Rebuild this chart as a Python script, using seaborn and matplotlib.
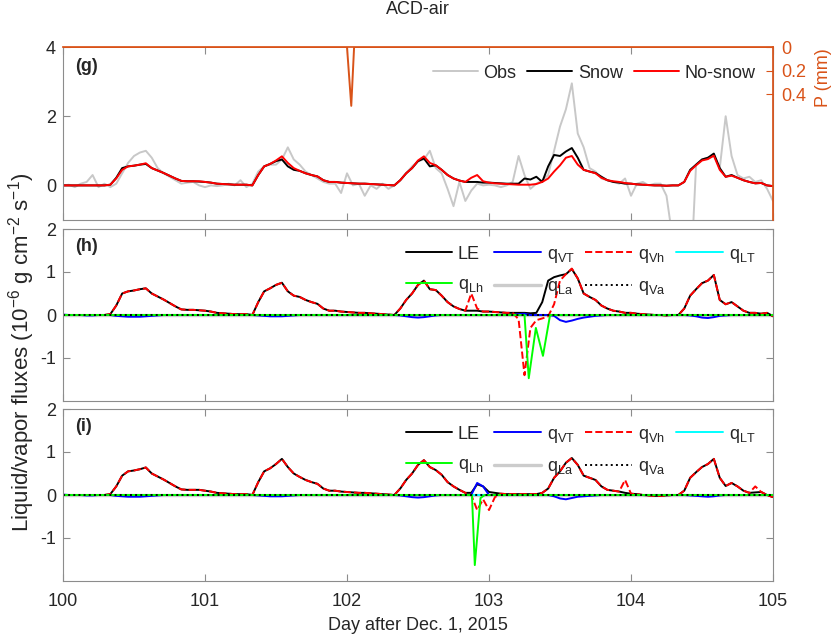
import numpy as np
import pandas as pd
import seaborn as sns
import matplotlib
matplotlib.use('Agg')
from matplotlib import pyplot as plt

# hourly samples, day 100 to day 105
hours = np.arange(121)
day = 100 + hours / 24

# (g) latent heat flux, observed and modelled
obs = [0.0, 0.02, -0.05, 0.05, 0.1, 0.3, -0.05, 0.05, -0.05, 0.05, 0.35, 0.65, 0.85, 0.95, 1.0, 0.8, 0.5, 0.35, 0.25, 0.15, 0.05, 0.08, 0.1, 0.0,
       -0.05, 0.0, -0.02, 0.0, 0.05, 0.0, 0.15, -0.05, 0.05, 0.4, 0.55, 0.6, 0.6, 0.75, 1.1, 0.75, 0.6, 0.4, 0.3, 0.2, 0.1, 0.05, 0.05, -0.22,
       0.35, 0.0, 0.05, -0.3, 0.0, -0.1, 0.05, -0.1, 0.0, 0.15, 0.35, 0.55, 0.7, 0.75, 1.0, 0.5, 0.35, -0.1, -0.6, 0.1, -0.45, -0.15, 0.05, 0.0,
       0.02, 0.0, -0.05, 0.0, 0.1, 0.85, 0.3, -0.1, 0.05, 0.15, 0.3, 1.0, 1.7, 2.2, 2.95, 1.5, 1.1, 0.5, 0.4, 0.2, 0.15, 0.1, 0.05, 0.2,
       -0.3, 0.05, 0.1, 0.0, 0.05, 0.05, -0.3, -1.5, -3.0, -3.0, -3.0, 0.6, 0.75, 0.8, 0.85, 0.5, 2.0, 0.85, 0.3, 0.2, 0.25, 0.1, 0.15, -0.1, -0.45]
snow = [0.0, 0.0, 0.0, 0.0, 0.0, 0.0, 0.0, 0.0, 0.02, 0.22, 0.5, 0.55, 0.57, 0.6, 0.62, 0.5, 0.43, 0.36, 0.28, 0.2, 0.13, 0.12, 0.12, 0.11,
        0.1, 0.08, 0.05, 0.04, 0.03, 0.02, 0.02, 0.02, 0.0, 0.3, 0.55, 0.62, 0.7, 0.75, 0.55, 0.45, 0.42, 0.35, 0.3, 0.26, 0.15, 0.1, 0.1, 0.08,
        0.07, 0.06, 0.05, 0.05, 0.04, 0.03, 0.02, 0.01, 0.0, 0.15, 0.35, 0.5, 0.7, 0.78, 0.55, 0.58, 0.45, 0.3, 0.2, 0.14, 0.1, 0.1, 0.1, 0.08,
        0.08, 0.07, 0.06, 0.05, 0.05, 0.05, 0.2, 0.17, 0.25, 0.1, 0.55, 0.88, 0.85, 0.98, 1.08, 0.8, 0.45, 0.4, 0.36, 0.25, 0.15, 0.1, 0.08, 0.05,
        0.05, 0.03, 0.02, 0.01, 0.0, 0.0, -0.01, 0.0, 0.0, 0.1, 0.45, 0.6, 0.75, 0.8, 0.92, 0.5, 0.25, 0.3, 0.22, 0.15, 0.1, 0.06, 0.07, 0.0, -0.02]
nosnow = [0.0, 0.0, 0.0, 0.0, 0.0, 0.0, 0.0, 0.0, 0.02, 0.2, 0.45, 0.55, 0.57, 0.6, 0.64, 0.5, 0.43, 0.36, 0.28, 0.2, 0.13, 0.12, 0.12, 0.12,
          0.1, 0.08, 0.05, 0.04, 0.03, 0.02, 0.02, 0.02, 0.0, 0.3, 0.55, 0.62, 0.72, 0.84, 0.65, 0.5, 0.42, 0.35, 0.3, 0.26, 0.15, 0.1, 0.1, 0.08,
          0.07, 0.06, 0.05, 0.05, 0.04, 0.03, 0.02, 0.01, 0.0, 0.15, 0.35, 0.5, 0.72, 0.84, 0.65, 0.58, 0.45, 0.3, 0.2, 0.14, 0.1, 0.22, 0.3, 0.12,
          0.08, 0.06, 0.05, 0.04, 0.03, 0.02, 0.02, 0.02, 0.04, 0.1, 0.2, 0.4, 0.58, 0.8, 0.85, 0.6, 0.45, 0.4, 0.35, 0.22, 0.15, 0.12, 0.1, 0.07,
          0.05, 0.03, 0.02, 0.01, 0.0, 0.0, -0.01, 0.0, 0.0, 0.1, 0.42, 0.58, 0.72, 0.76, 0.86, 0.45, 0.25, 0.28, 0.22, 0.15, 0.1, 0.06, 0.07, 0.0, -0.02]

# precipitation (right axis of g)
p_day = [100.0, 102.0, 102.03, 102.05, 105.0]
p_mm = [0.0, 0.0, 0.5, 0.0, 0.0]

# (h) snow run
le_h = [0.0, 0.0, 0.0, 0.0, 0.0, 0.0, 0.0, 0.0, 0.02, 0.22, 0.5, 0.55, 0.57, 0.6, 0.62, 0.5, 0.43, 0.36, 0.28, 0.2, 0.13, 0.12, 0.12, 0.11,
        0.1, 0.08, 0.05, 0.04, 0.03, 0.02, 0.02, 0.02, 0.0, 0.3, 0.55, 0.62, 0.7, 0.75, 0.55, 0.45, 0.42, 0.35, 0.3, 0.26, 0.15, 0.1, 0.1, 0.08,
        0.07, 0.06, 0.05, 0.05, 0.04, 0.03, 0.02, 0.01, 0.0, 0.15, 0.35, 0.5, 0.7, 0.8, 0.6, 0.58, 0.45, 0.3, 0.2, 0.14, 0.1, 0.1, 0.1, 0.08,
        0.08, 0.07, 0.06, 0.05, 0.05, 0.05, 0.05, 0.04, 0.05, 0.3, 0.8, 0.88, 0.92, 0.95, 1.07, 0.85, 0.5, 0.42, 0.35, 0.22, 0.15, 0.1, 0.08, 0.05,
        0.05, 0.03, 0.02, 0.01, 0.0, 0.0, -0.01, 0.0, 0.0, 0.15, 0.45, 0.6, 0.74, 0.8, 0.93, 0.35, 0.25, 0.3, 0.2, 0.1, 0.05, 0.05, 0.03, 0.05, -0.03]
qvt_h = [0.01, 0.0, 0.0, 0.0, -0.01, -0.01, 0.0, 0.0, 0.0, -0.02, -0.03, -0.04, -0.04, -0.04, -0.03, -0.02, -0.01, 0.0, 0.0, 0.0, 0.0, 0.0, 0.0, 0.0,
         0.0, 0.0, 0.0, 0.0, 0.0, 0.0, 0.0, 0.0, 0.0, -0.01, -0.02, -0.03, -0.03, -0.03, -0.02, -0.01, 0.0, 0.0, 0.0, 0.0, 0.0, 0.0, 0.0, 0.0,
         0.0, 0.0, 0.0, 0.0, 0.0, 0.0, 0.0, 0.0, 0.0, -0.01, -0.03, -0.05, -0.06, -0.05, -0.03, -0.01, 0.0, 0.0, 0.0, 0.0, 0.0, 0.0, 0.0, 0.0,
         0.0, 0.0, 0.0, 0.0, 0.0, 0.02, 0.03, 0.0, 0.0, 0.0, 0.0, -0.02, -0.12, -0.16, -0.13, -0.09, -0.06, -0.04, -0.02, -0.01, 0.0, 0.0, 0.0, 0.0,
         0.0, 0.0, 0.0, 0.0, 0.0, 0.0, 0.0, 0.0, 0.0, 0.0, -0.01, -0.03, -0.06, -0.07, -0.05, -0.02, -0.01, 0.0, 0.0, 0.0, 0.0, 0.0, 0.0, 0.0, 0.0]
qvh_h = [0.0, 0.0, 0.0, 0.0, 0.0, 0.0, 0.0, 0.0, 0.02, 0.22, 0.5, 0.55, 0.57, 0.6, 0.62, 0.5, 0.43, 0.36, 0.28, 0.2, 0.13, 0.12, 0.12, 0.11,
         0.1, 0.08, 0.05, 0.04, 0.03, 0.02, 0.02, 0.02, 0.0, 0.3, 0.55, 0.62, 0.7, 0.75, 0.55, 0.45, 0.42, 0.35, 0.3, 0.26, 0.15, 0.1, 0.1, 0.08,
         0.07, 0.06, 0.05, 0.05, 0.04, 0.03, 0.02, 0.01, 0.0, 0.15, 0.35, 0.5, 0.7, 0.8, 0.6, 0.58, 0.45, 0.3, 0.2, 0.14, 0.1, 0.5, 0.15, 0.08,
         0.08, 0.07, 0.06, 0.05, 0.05, -0.1, -1.4, -0.3, -0.12, -0.08, -0.03, 0.25, 0.8, 0.95, 1.08, 0.85, 0.5, 0.42, 0.35, 0.22, 0.15, 0.1, 0.08, 0.05,
         0.05, 0.03, 0.02, 0.01, 0.0, 0.0, -0.01, 0.0, 0.0, 0.15, 0.45, 0.6, 0.74, 0.8, 0.93, 0.35, 0.25, 0.3, 0.2, 0.1, 0.05, 0.05, 0.03, 0.05, -0.03]
qlh_h_day = [100.0, 103.25, 103.28, 103.33, 103.38, 103.43, 105.0]
qlh_h = [0.0, 0.0, -1.47, -0.3, -0.95, 0.0, 0.0]

# (i) no-snow run
le_i = [0.0, 0.0, 0.0, 0.0, 0.0, 0.0, 0.0, 0.0, 0.02, 0.2, 0.45, 0.55, 0.57, 0.6, 0.64, 0.5, 0.43, 0.36, 0.28, 0.2, 0.13, 0.12, 0.12, 0.12,
        0.1, 0.08, 0.05, 0.04, 0.03, 0.02, 0.02, 0.02, 0.0, 0.3, 0.55, 0.62, 0.72, 0.84, 0.65, 0.5, 0.42, 0.35, 0.3, 0.26, 0.15, 0.1, 0.1, 0.08,
        0.07, 0.06, 0.05, 0.05, 0.04, 0.03, 0.02, 0.01, 0.0, 0.15, 0.35, 0.5, 0.7, 0.81, 0.65, 0.58, 0.47, 0.3, 0.2, 0.12, 0.05, 0.05, 0.25, 0.2,
        0.07, 0.05, 0.03, 0.02, 0.02, 0.02, 0.02, 0.02, 0.02, 0.05, 0.15, 0.4, 0.55, 0.75, 0.86, 0.7, 0.45, 0.4, 0.35, 0.2, 0.12, 0.1, 0.08, 0.05,
        0.03, 0.02, 0.0, -0.01, -0.02, -0.02, -0.01, 0.0, 0.0, 0.1, 0.4, 0.53, 0.65, 0.72, 0.84, 0.4, 0.21, 0.28, 0.2, 0.1, 0.05, 0.06, 0.07, 0.0, -0.05]
qvt_i = [0.01, 0.0, 0.0, 0.0, -0.01, -0.01, 0.0, 0.0, 0.0, -0.02, -0.03, -0.04, -0.04, -0.04, -0.03, -0.02, -0.01, 0.0, 0.0, 0.0, 0.0, 0.0, 0.0, 0.0,
         0.0, 0.0, 0.0, 0.0, 0.0, 0.0, 0.0, 0.0, 0.0, -0.01, -0.02, -0.03, -0.03, -0.03, -0.02, -0.01, 0.0, 0.0, 0.0, 0.0, 0.0, 0.0, 0.0, 0.0,
         0.0, 0.0, 0.0, 0.0, 0.0, 0.0, 0.0, 0.0, 0.0, -0.01, -0.03, -0.05, -0.06, -0.05, -0.03, -0.01, 0.0, 0.0, 0.0, 0.0, 0.0, 0.0, 0.28, 0.2,
         0.0, 0.0, 0.0, 0.0, 0.0, 0.0, 0.0, 0.0, 0.0, 0.0, 0.0, -0.03, -0.08, -0.1, -0.07, -0.04, -0.03, -0.02, -0.01, 0.0, 0.0, 0.0, 0.0, 0.0,
         0.0, 0.0, 0.0, 0.0, 0.0, 0.0, 0.0, 0.0, 0.0, 0.0, -0.01, -0.02, -0.03, -0.04, -0.03, -0.01, 0.0, 0.0, 0.0, 0.0, 0.0, 0.0, 0.0, 0.0, 0.0]
qvh_i = [0.0, 0.0, 0.0, 0.0, 0.0, 0.0, 0.0, 0.0, 0.02, 0.2, 0.45, 0.55, 0.57, 0.6, 0.64, 0.5, 0.43, 0.36, 0.28, 0.2, 0.13, 0.12, 0.12, 0.12,
         0.1, 0.08, 0.05, 0.04, 0.03, 0.02, 0.02, 0.02, 0.0, 0.3, 0.55, 0.62, 0.72, 0.84, 0.65, 0.5, 0.42, 0.35, 0.3, 0.26, 0.15, 0.1, 0.1, 0.08,
         0.07, 0.06, 0.05, 0.05, 0.04, 0.03, 0.02, 0.01, 0.0, 0.15, 0.35, 0.5, 0.7, 0.81, 0.65, 0.58, 0.47, 0.3, 0.2, 0.12, 0.05, 0.0, -0.35, -0.1,
         -0.35, -0.05, 0.03, 0.02, 0.02, 0.02, 0.02, 0.02, 0.02, 0.05, 0.15, 0.4, 0.55, 0.75, 0.86, 0.7, 0.45, 0.4, 0.35, 0.2, 0.12, 0.1, 0.08, 0.35,
         0.03, 0.02, 0.0, -0.01, -0.02, -0.02, -0.01, 0.0, 0.0, 0.1, 0.4, 0.53, 0.65, 0.72, 0.84, 0.4, 0.21, 0.28, 0.2, 0.1, 0.05, 0.2, 0.07, 0.0, -0.05]
qlh_i_day = [100.0, 102.88, 102.9, 102.94, 102.97, 105.0]
qlh_i = [0.0, 0.0, -1.63, -0.07, 0.0, 0.0]

# terms that stay at zero over the period
zero_day = [100.0, 105.0]
zero_val = [0.0, 0.0]

df = pd.DataFrame({'day': day, 'obs': obs, 'snow': snow, 'nosnow': nosnow,
                   'le_h': le_h, 'qvt_h': qvt_h, 'qvh_h': qvh_h,
                   'le_i': le_i, 'qvt_i': qvt_i, 'qvh_i': qvh_i})

sns.set_theme(style='ticks')
plt.rcParams['font.family'] = ['Liberation Sans', 'DejaVu Sans']
plt.rcParams['mathtext.default'] = 'regular'
plt.rcParams['axes.unicode_minus'] = False

axis_col = '#8c8c8c'
text_col = '#262626'
orange = '#D95319'
lw = 1.4
fs = 13

fig = plt.figure(figsize=(8.35, 6.35), dpi=100)
left, width = 63 / 835, 710 / 835
ax_g = fig.add_axes([left, 1 - 220 / 635, width, 173 / 635])
ax_h = fig.add_axes([left, 1 - 401 / 635, width, 172 / 635])
ax_i = fig.add_axes([left, 1 - 581 / 635, width, 172 / 635])


def style(ax, ylim, yticks):
    ax.set_xlim(100, 105)
    ax.set_ylim(*ylim)
    ax.set_xticks([100, 101, 102, 103, 104, 105])
    ax.set_yticks(yticks)
    ax.tick_params(direction='in', length=5, width=0.8, top=True, right=True,
                   color=axis_col, labelcolor=text_col, labelsize=fs, pad=5)
    ax.tick_params(axis='x', pad=9)
    for s in ax.spines.values():
        s.set_color(axis_col)
        s.set_linewidth(0.8)
    ax.set_xlabel('')
    ax.set_ylabel('')


# ---- (g)
sns.lineplot(data=df, x='day', y='obs', ax=ax_g, color='#c8c8c8', lw=lw, label='Obs')
sns.lineplot(data=df, x='day', y='snow', ax=ax_g, color='black', lw=lw, label='Snow')
sns.lineplot(data=df, x='day', y='nosnow', ax=ax_g, color='#ff0000', lw=lw, label='No-snow')
style(ax_g, (-1, 4), [0, 2, 4])
ax_g.tick_params(labelbottom=False)
ax_g.legend(ncol=3, frameon=False, loc='upper right', bbox_to_anchor=(0.985, 0.94),
            borderaxespad=0, handlelength=2.5, handletextpad=0.3, columnspacing=0.6, fontsize=fs)
ax_g.text(0.017, 0.89, '(g)', transform=ax_g.transAxes, fontsize=fs, fontweight='bold', va='center')

ax_p = ax_g.twinx()
sns.lineplot(x=p_day, y=p_mm, ax=ax_p, color=orange, lw=lw)
ax_p.set_ylim(1.47, 0)
ax_p.set_yticks([0, 0.2, 0.4])
ax_p.set_yticklabels(['0', '0.2', '0.4'])
ax_p.tick_params(direction='in', length=5, width=0.8, color=orange, labelcolor=orange,
                 labelsize=fs, pad=6)
ax_p.spines['left'].set_visible(False)
ax_p.spines['bottom'].set_visible(False)
ax_p.spines['right'].set_color(orange)
ax_p.spines['top'].set_color(orange)
ax_g.spines['top'].set_visible(False)
ax_p.set_ylabel('')
fig.text(823 / 835, 1 - 78 / 635, 'P (mm)', rotation=90, ha='center', va='center',
         color=orange, fontsize=fs)


# ---- (h) and (i)
def flux_panel(ax, le, qvt, qvh, qlh_day, qlh, tag):
    sns.lineplot(x=zero_day, y=zero_val, ax=ax, color='#cccccc', lw=2.4, label='q$_{La}$', zorder=1.5)
    sns.lineplot(data=df, x='day', y=le, ax=ax, color='black', lw=lw, label='LE')
    sns.lineplot(data=df, x='day', y=qvt, ax=ax, color='#0000ff', lw=lw, label='q$_{VT}$')
    sns.lineplot(data=df, x='day', y=qvh, ax=ax, color='#ff0000', lw=lw, linestyle='--', label='q$_{Vh}$')
    sns.lineplot(x=zero_day, y=zero_val, ax=ax, color='#00ffff', lw=lw, label='q$_{LT}$', zorder=1.6)
    sns.lineplot(x=qlh_day, y=qlh, ax=ax, color='#00ff00', lw=lw, label='q$_{Lh}$')
    sns.lineplot(x=zero_day, y=zero_val, ax=ax, color='black', lw=lw, linestyle=':', label='q$_{Va}$')
    style(ax, (-2, 2), [-1, 0, 1, 2])
    handles, labels = ax.get_legend_handles_labels()
    lookup = dict(zip(labels, handles))
    order = ['LE', 'q$_{Lh}$', 'q$_{VT}$', 'q$_{La}$', 'q$_{Vh}$', 'q$_{Va}$', 'q$_{LT}$']
    ax.legend([lookup[k] for k in order], order, ncol=4, frameon=False, loc='upper right',
              bbox_to_anchor=(0.985, 0.945), borderaxespad=0, handlelength=2.6,
              handletextpad=0.3, columnspacing=0.6, labelspacing=0.75, fontsize=fs)
    ax.text(0.017, 0.9, tag, transform=ax.transAxes, fontsize=fs, fontweight='bold', va='center')


flux_panel(ax_h, 'le_h', 'qvt_h', 'qvh_h', qlh_h_day, qlh_h, '(h)')
ax_h.tick_params(labelbottom=False)
flux_panel(ax_i, 'le_i', 'qvt_i', 'qvh_i', qlh_i_day, qlh_i, '(i)')
ax_i.set_xlabel('Day after Dec. 1, 2015', fontsize=fs, color=text_col, labelpad=5)

fig.text(0.5006, 1 - 10 / 635, 'ACD-air', ha='center', va='center', fontsize=fs, color=text_col)
fig.text(22 / 835, 1 - 352 / 635,
         'Liquid/vapor fluxes (10$^{-6}$ g cm$^{-2}$ s$^{-1}$)',
         rotation=90, ha='center', va='center', fontsize=16, color=text_col)

fig.savefig('out.png', dpi=100)
